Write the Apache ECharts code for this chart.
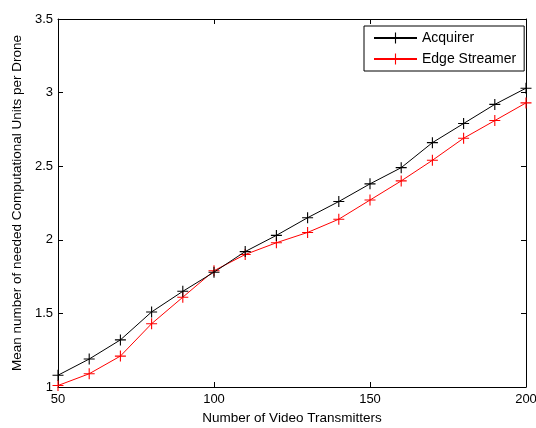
<!DOCTYPE html>
<html>
<head>
<meta charset="utf-8">
<script src="https://cdn.jsdelivr.net/npm/echarts@6/dist/echarts.min.js"></script>
<style>
  html, body { margin: 0; padding: 0; background: #fff; }
  #main { width: 536px; height: 428px; }
</style>
</head>
<body>
<div id="main"></div>
<script>
// x values (number of video transmitters)
var transmitters = [50, 60, 70, 80, 90, 100, 110, 120, 130, 140, 150, 160, 170, 180, 190, 200];
// mean number of computational units per drone
var acquirer = [1.08, 1.19, 1.32, 1.51, 1.65, 1.78, 1.92, 2.03, 2.15, 2.26, 2.38, 2.49, 2.66, 2.79, 2.92, 3.03];
var edgeStreamer = [1.01, 1.09, 1.21, 1.43, 1.61, 1.79, 1.90, 1.98, 2.05, 2.14, 2.27, 2.40, 2.54, 2.69, 2.81, 2.93];

var seriesNames = ['Acquirer', 'Edge Streamer'];
var seriesColors = ['#000000', '#ff0000'];

// '+' marker
var plusMark = 'path://M4.5,0 H5.5 V4.5 H10 V5.5 H5.5 V10 H4.5 V5.5 H0 V4.5 H4.5 Z';

function pairs(ys) {
  return transmitters.map(function (x, i) { return [x, ys[i]]; });
}

var myChart = echarts.init(document.getElementById('main'));

var font = 'Liberation Sans, Arial, sans-serif';
var axisCommon = {
  axisLine: { show: true, onZero: false, lineStyle: { color: '#000', width: 1 } },
  axisTick: { show: true, inside: true, length: 5, lineStyle: { color: '#000' } },
  splitLine: { show: false }
};

var option = {
  animation: false,
  backgroundColor: '#fff',
  textStyle: { fontFamily: font },
  grid: { left: 58, top: 19, right: 10, bottom: 41, containLabel: false, outerBoundsMode: 'none' },
  legend: {
    data: seriesNames,
    orient: 'vertical',
    left: 364,
    top: 26,
    width: 157,
    itemWidth: 43,
    itemHeight: 14,
    itemGap: 7,
    padding: [5, 8, 5, 9],
    borderColor: '#000',
    borderWidth: 1,
    backgroundColor: '#fff',
    textStyle: { fontSize: 14, color: '#000', fontFamily: font }
  },
  xAxis: [
    Object.assign({}, axisCommon, {
      type: 'value', min: 50, max: 200, interval: 50,
      position: 'bottom',
      name: 'Number of Video Transmitters',
      nameLocation: 'middle',
      nameGap: 22,
      nameTextStyle: { fontSize: 13.5, color: '#000' },
      axisLabel: { margin: 6, fontSize: 13, color: '#000', fontFamily: font }
    }),
    Object.assign({}, axisCommon, {
      type: 'value', min: 50, max: 200, interval: 50,
      position: 'top',
      axisLabel: { show: false }
    })
  ],
  yAxis: [
    Object.assign({}, axisCommon, {
      type: 'value', min: 1, max: 3.5, interval: 0.5,
      position: 'left',
      name: 'Mean number of needed Computational Units per Drone',
      nameLocation: 'middle',
      nameGap: 33,
      nameTextStyle: { fontSize: 13.5, color: '#000' },
      axisLabel: { margin: 5, fontSize: 13, color: '#000', fontFamily: font }
    }),
    Object.assign({}, axisCommon, {
      type: 'value', min: 1, max: 3.5, interval: 0.5,
      position: 'right',
      axisLabel: { show: false }
    })
  ],
  series: [acquirer, edgeStreamer].map(function (ys, i) {
    return {
      name: seriesNames[i],
      type: 'line',
      data: pairs(ys),
      symbol: plusMark,
      symbolSize: 11,
      showSymbol: true,
      lineStyle: { color: seriesColors[i], width: 1 },
      itemStyle: { color: seriesColors[i] },
      z: 3 - i
    };
  })
};

myChart.setOption(option);
</script>
</body>
</html>
